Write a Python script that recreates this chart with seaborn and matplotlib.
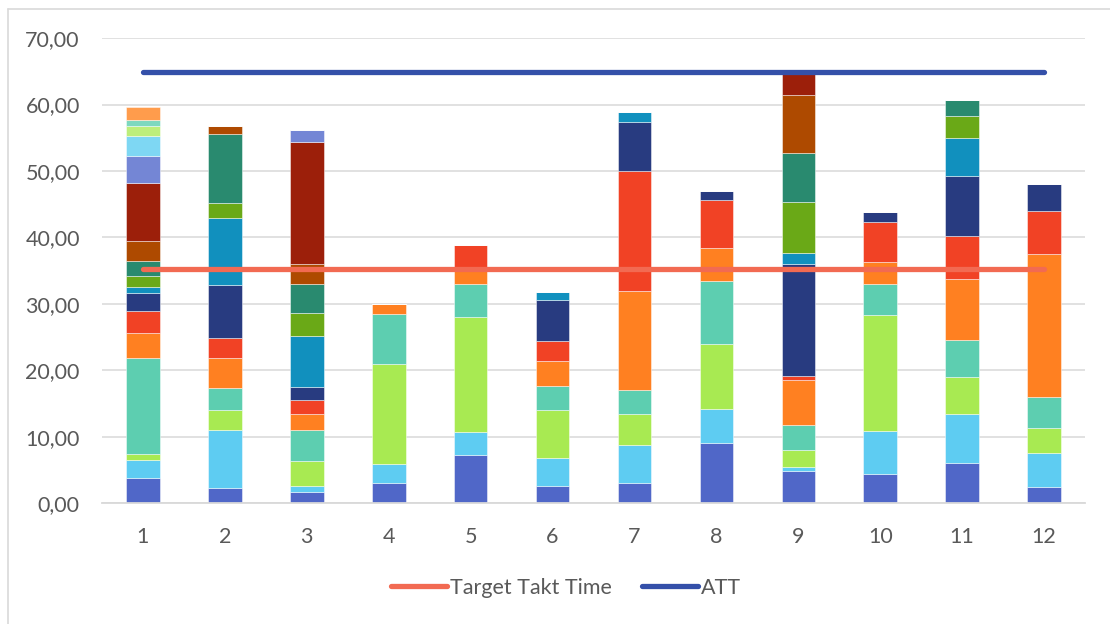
import matplotlib
matplotlib.use("Agg")
import matplotlib.pyplot as plt
from matplotlib.lines import Line2D
import seaborn as sns
import pandas as pd

# ---------------- data ----------------
categories = [1, 2, 3, 4, 5, 6, 7, 8, 9, 10, 11, 12]
series_names = list("ABCDEFGHIJKLMNOPQ")

A = [3.75, 2.35, 1.75, 3.0, 7.3, 2.65, 3.05, 9.1, 4.85, 4.45, 6.05, 2.5]
B = [2.75, 8.65, 0.9, 2.9, 3.45, 4.2, 5.7, 5.05, 0.65, 6.5, 7.4, 5.1]
C = [0.9, 3.1, 3.7, 15.0, 17.25, 7.15, 4.7, 9.75, 2.5, 17.35, 5.55, 3.8]
D = [14.5, 3.2, 4.75, 7.6, 5.0, 3.6, 3.55, 9.5, 3.85, 4.7, 5.5, 4.6]
E = [3.8, 4.6, 2.3, 1.5, 2.0, 3.8, 14.9, 5.05, 6.65, 3.3, 9.3, 21.5]
F = [3.2, 2.9, 2.1, 0, 3.9, 3.0, 18.1, 7.15, 0.6, 6.0, 6.4, 6.5]
G = [2.8, 8.0, 2.0, 0, 0, 6.2, 7.3, 1.35, 16.9, 1.5, 9.0, 4.05]
H = [0.8, 10.2, 7.7, 0, 0, 1.2, 1.65, 0, 1.6, 0, 5.7, 0]
I = [1.7, 2.2, 3.5, 0, 0, 0, 0, 0, 7.8, 0, 3.4, 0]
J = [2.3, 10.4, 4.3, 0, 0, 0, 0, 0, 7.35, 0, 2.4, 0]
K = [3.0, 1.1, 3.0, 0, 0, 0, 0, 0, 8.7, 0, 0, 0]
L = [8.7, 0, 18.4, 0, 0, 0, 0, 0, 3.45, 0, 0, 0]
M = [4.1, 0, 1.7, 0, 0, 0, 0, 0, 0, 0, 0, 0]
N = [2.9, 0, 0, 0, 0, 0, 0, 0, 0, 0, 0, 0]
O = [1.6, 0, 0, 0, 0, 0, 0, 0, 0, 0, 0, 0]
P = [0.9, 0, 0, 0, 0, 0, 0, 0, 0, 0, 0, 0]
Q = [1.9, 0, 0, 0, 0, 0, 0, 0, 0, 0, 0, 0]
series_values = [A, B, C, D, E, F, G, H, I, J, K, L, M, N, O, P, Q]

target_takt_time = [35.3] * 12
att = [64.9] * 12
y_ticks = [0, 10, 20, 30, 40, 50, 60, 70]

series_colors = ["#5067C8", "#5ECCF2", "#A8EA52", "#5DCEB0", "#FF8021",
                 "#F14225", "#283B80", "#1190BE", "#6AA917", "#298A6F",
                 "#AE4A00", "#9C1F0A", "#7486D5", "#7ED7F3", "#BDEE7B",
                 "#7DD8BF", "#FF9C4C"]
target_color = "#F26A52"
att_color = "#3450A9"

# ---------------- long table ----------------
rows = []
for name, vals in zip(series_names, series_values):
    for c, v in zip(categories, vals):
        if v > 0:
            rows.append({"cat": c, "series": name, "value": v})
df = pd.DataFrame(rows)

sns.set_theme(style="white")
plt.rcParams["font.family"] = ["Lato", "DejaVu Sans"]

fig = plt.figure(figsize=(11.10, 6.24), dpi=100)
ax = fig.add_axes([0.0919, 0.1934, 0.8856, 0.7456])

palette = dict(zip(series_names, series_colors))
sns.histplot(data=df, x="cat", hue="series", weights="value",
             hue_order=series_names[::-1], palette=palette,
             multiple="stack", discrete=True, shrink=0.41,
             element="bars", alpha=1.0, legend=False,
             edgecolor=(1, 1, 1, 0.55), linewidth=0.6, ax=ax, zorder=2)

line_df = pd.DataFrame({"cat": categories * 2,
                        "value": target_takt_time + att,
                        "line": ["Target Takt Time"] * 12 + ["ATT"] * 12})
sns.lineplot(data=line_df, x="cat", y="value", hue="line",
             palette={"Target Takt Time": target_color, "ATT": att_color},
             linewidth=3.8, legend=False, ax=ax, zorder=3,
             solid_capstyle="round")

ax.set_xlim(0.5, 12.5)
ax.set_ylim(0, 70)
ax.set_yticks(y_ticks)
ax.set_yticklabels([f"{v:.2f}".replace(".", ",") for v in y_ticks])
ax.set_xticks(categories)
ax.set_xticklabels([str(c) for c in categories])
ax.set_xlabel("")
ax.set_ylabel("")
ax.grid(axis="y", color="#D9D9D9", linewidth=1.1, zorder=0)
ax.grid(axis="x", visible=False)
ax.set_axisbelow(True)
for s in ["left", "right", "top"]:
    ax.spines[s].set_visible(False)
ax.spines["bottom"].set_color("#D9D9D9")
ax.spines["bottom"].set_linewidth(1.3)
ax.tick_params(axis="both", length=0, labelsize=15.5, colors="#595959")
ax.tick_params(axis="y", pad=16)
ax.tick_params(axis="x", pad=17)

handles = [Line2D([0], [0], color=target_color, lw=3.8, solid_capstyle="round"),
           Line2D([0], [0], color=att_color, lw=3.8, solid_capstyle="round")]
leg = fig.legend(handles, ["Target Takt Time", "ATT"], loc="center",
                 bbox_to_anchor=(0.51, 0.058), ncol=2, frameon=False,
                 fontsize=15.5, handlelength=2.6, handletextpad=0.15,
                 columnspacing=1.4)
for t in leg.get_texts():
    t.set_color("#595959")

# outer chart frame (left and top edges visible)
fig.add_artist(Line2D([8 / 1110, 8 / 1110], [0, 1 - 9 / 624],
                      transform=fig.transFigure, color="#D9D9D9", lw=1.2))
fig.add_artist(Line2D([8 / 1110, 1], [1 - 9 / 624, 1 - 9 / 624],
                      transform=fig.transFigure, color="#D9D9D9", lw=1.2))

fig.savefig("out.png", dpi=100)
